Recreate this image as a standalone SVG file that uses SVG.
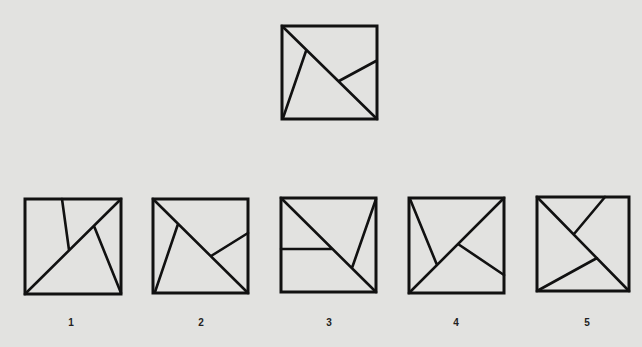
<svg xmlns="http://www.w3.org/2000/svg" width="642" height="347" viewBox="0 0 642 347">
<style>
.bg{fill:#e2e2e0}
.sq{fill:none;stroke:#111;stroke-width:3}
.ln{fill:none;stroke:#111;stroke-width:2.6;stroke-linecap:round}
.lb{font-family:"Liberation Sans",Arial,sans-serif;font-size:10px;font-weight:bold;fill:#222;text-anchor:middle}
</style>
<rect class="bg" x="0" y="0" width="642" height="347"/>
<g id="target">
<rect class="sq" x="282" y="26" width="95" height="93"/>
<path class="ln" d="M282 26L377 119M283 118L306 51M376 61L339 81"/>
</g>
<g id="option1">
<rect class="sq" x="25" y="199" width="96" height="95"/>
<path class="ln" d="M25 294L121 199M62 199L69 250M94 226L121 293"/>
<text class="lb" x="71" y="326">1</text>
</g>
<g id="option2">
<rect class="sq" x="153" y="199" width="95" height="94"/>
<path class="ln" d="M153 199L248 293M155 292L178 224M248 233L211 256"/>
<text class="lb" x="201" y="326">2</text>
</g>
<g id="option3">
<rect class="sq" x="281" y="198" width="95" height="94"/>
<path class="ln" d="M281 198L376 292M281 249L332 249M376 199L352 268"/>
<text class="lb" x="329" y="326">3</text>
</g>
<g id="option4">
<rect class="sq" x="409" y="198" width="95" height="95"/>
<path class="ln" d="M409 293L504 198M410 199L437 265M458 244L504 275"/>
<text class="lb" x="456" y="326">4</text>
</g>
<g id="option5">
<rect class="sq" x="537" y="197" width="92" height="94"/>
<path class="ln" d="M537 197L629 291M605 197L574 234M537 291L597 258"/>
<text class="lb" x="587" y="326">5</text>
</g>
</svg>
